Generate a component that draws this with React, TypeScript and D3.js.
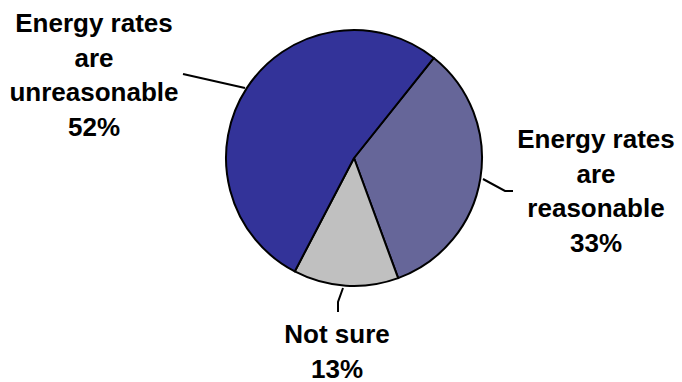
import React from "react";
import * as d3 from "d3";

// Survey answers and their shares (percent)
const categories = ["Energy rates are reasonable", "Not sure", "Energy rates are unreasonable"];
const values = [33, 13, 52];
const colors = ["#666699", "#C0C0C0", "#333399"];
// Label lines as drawn beside each slice
const labelLines = [
  ["Energy rates", "are", "reasonable", "33%"],
  ["Not sure", "13%"],
  ["Energy rates", "are", "unreasonable", "52%"],
];

const W = 682;
const H = 382;
const cx = 354;
const cy = 158;
const r = 128;
const startDeg = 38.6;

// Label block anchors (center x, first baseline) and leader line points
const labelPos = [
  { x: 596, y: 148 },
  { x: 337, y: 343 },
  { x: 94, y: 32 },
];
const leaders: [number, number][][] = [
  [[483, 179], [505, 191], [513, 191]],
  [[343, 288], [338, 302], [338, 312]],
  [[245, 88], [183, 74]],
];

export default function App() {
  const start = (startDeg * Math.PI) / 180;
  const pie = d3
    .pie<number>()
    .sort(null)
    .value((d) => d)
    .startAngle(start)
    .endAngle(start + 2 * Math.PI);
  const arcs = pie(values);
  const arc = d3.arc<d3.PieArcDatum<number>>().innerRadius(0).outerRadius(r);
  const line = d3.line();

  return (
    <svg
      width={W}
      height={H}
      style={{ position: "absolute", left: 0, top: 0, background: "#fff" }}
      fontFamily="'Liberation Sans', Arial, sans-serif"
      fontWeight="bold"
    >
      <g transform={`translate(${cx},${cy})`}>
        {arcs.map((a, i) => (
          <path
            key={categories[i]}
            d={arc(a) || ""}
            fill={colors[i]}
            stroke="#000"
            strokeWidth={2}
            strokeLinejoin="round"
          />
        ))}
      </g>
      {leaders.map((pts, i) => (
        <path key={i} d={line(pts) || ""} fill="none" stroke="#000" strokeWidth={2} />
      ))}
      {labelLines.map((lines, i) => (
        <text key={i} textAnchor="middle" fontSize={26} fill="#000">
          {lines.map((t, j) => (
            <tspan key={j} x={labelPos[i].x} y={labelPos[i].y + j * 34.5}>
              {t}
            </tspan>
          ))}
        </text>
      ))}
    </svg>
  );
}
